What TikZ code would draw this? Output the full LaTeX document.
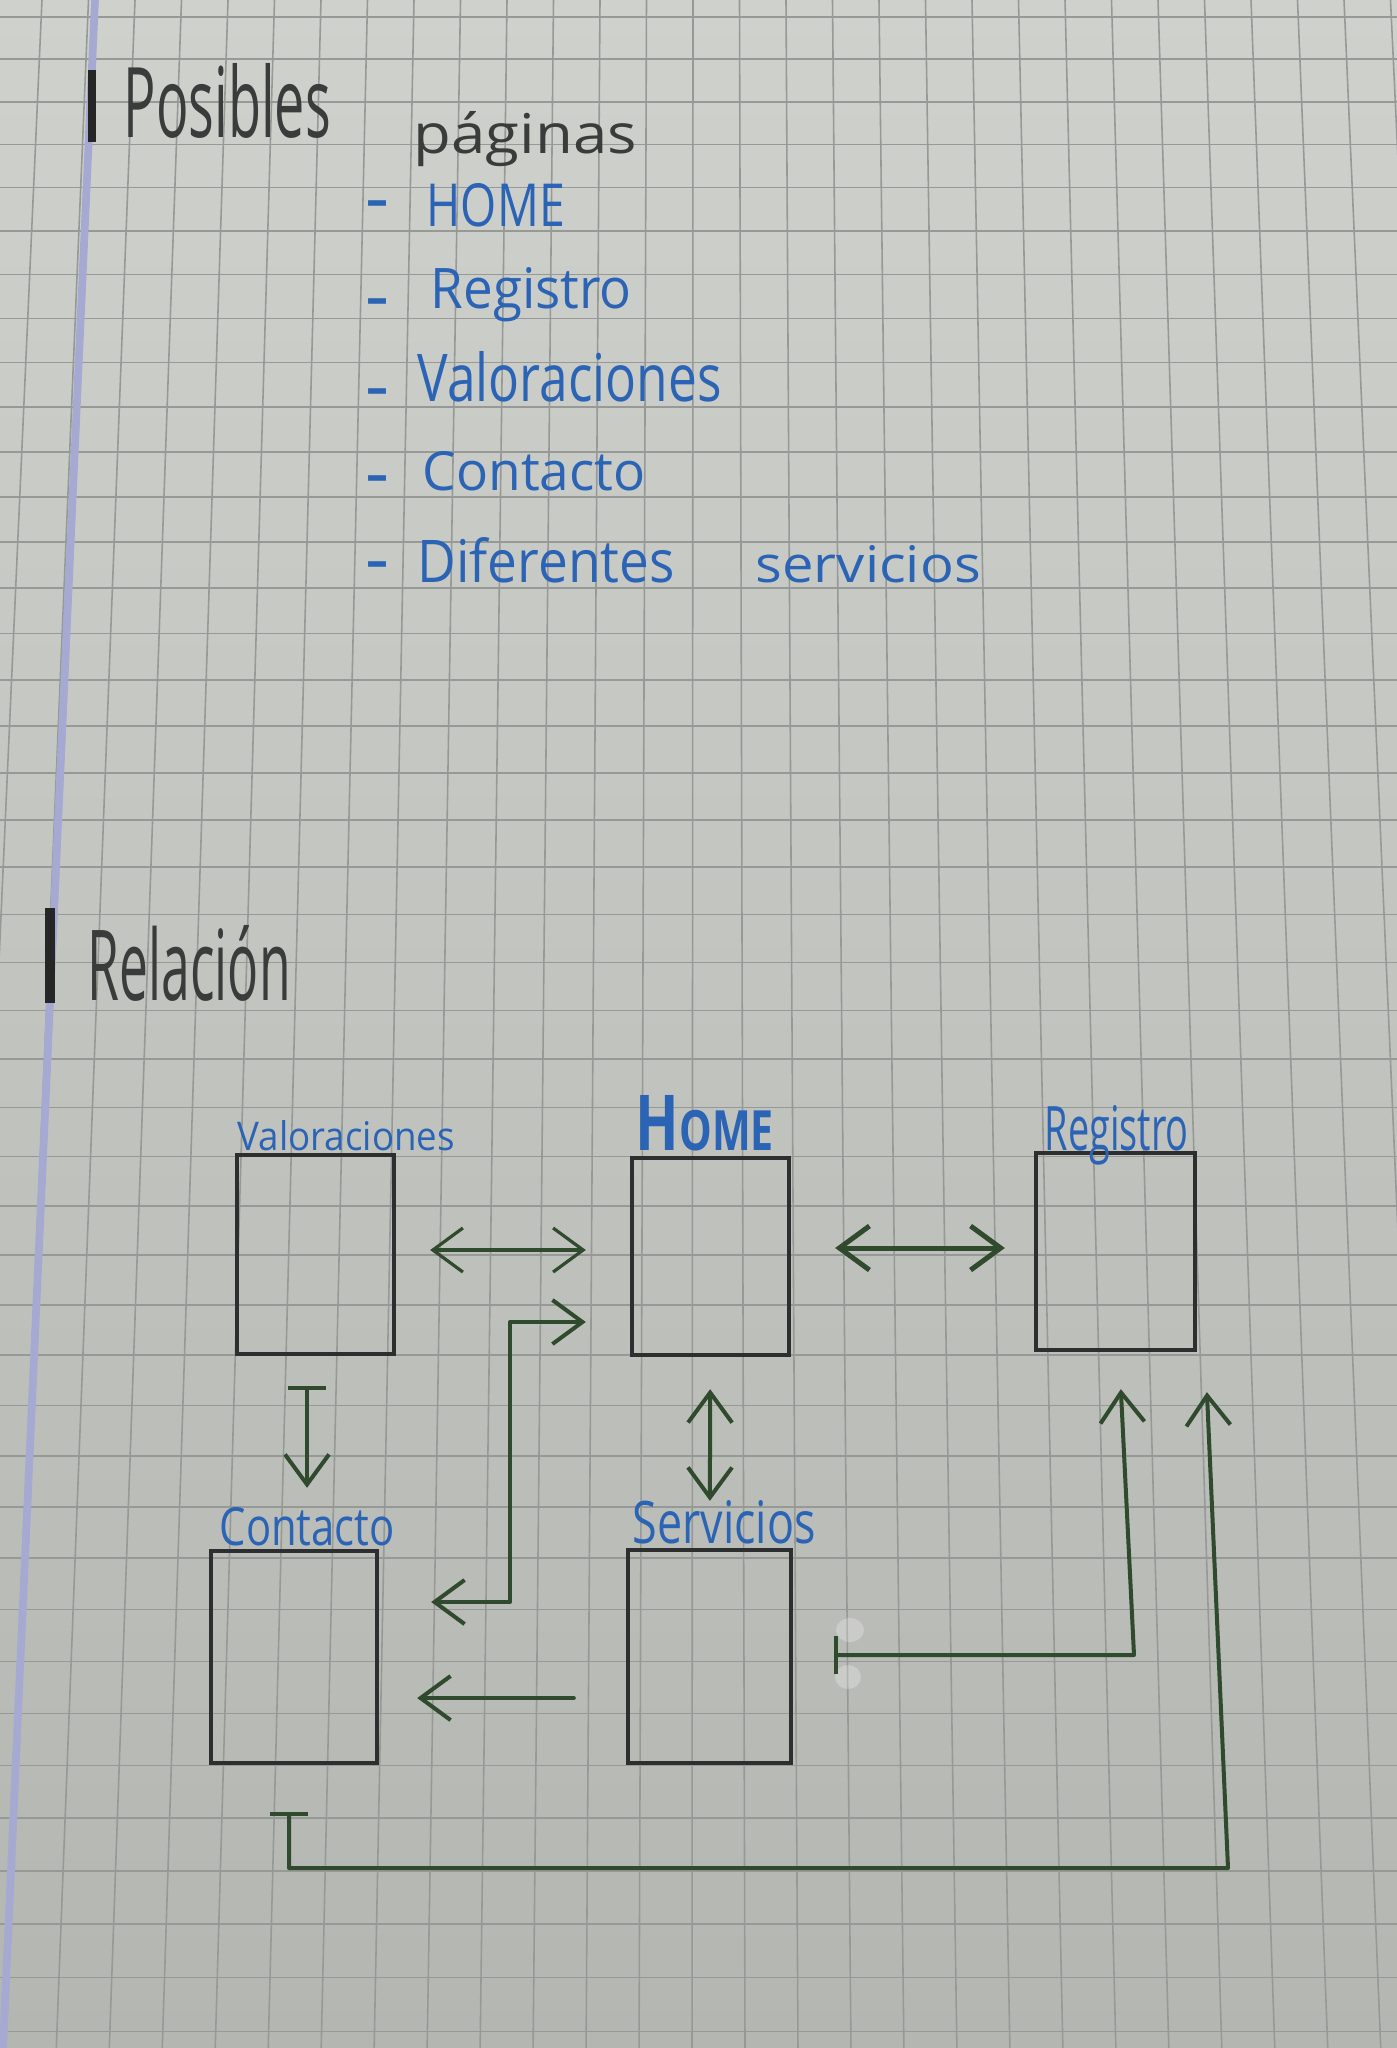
\documentclass[tikz,border=0pt]{standalone}
\usepackage{graphicx}
\usepackage{fontspec}
\setmainfont{Open Sans}
\usetikzlibrary{arrows.meta}
\definecolor{paperTop}{HTML}{CFD1CD}
\definecolor{paperBot}{HTML}{B4B6B2}
\definecolor{gridGrey}{HTML}{979996}
\definecolor{marginBlue}{HTML}{A6A9D2}
\definecolor{pencil}{HTML}{3A3B3B}
\definecolor{inkBlue}{HTML}{2B63B5}
\definecolor{boxInk}{HTML}{2C2E2F}
\definecolor{arrowGreen}{HTML}{2F4A2C}
\newcommand{\scrib}[3]{\resizebox{#1}{#2}{#3}}
\begin{document}
\begin{tikzpicture}[x=0.01cm, y=-0.01cm,
    gridline/.style={gridGrey, line width=0.45pt},
    pagebox/.style={draw=boxInk, line width=0.42mm},
    pencilText/.style={text=pencil, anchor=base west},
    inkText/.style={text=inkBlue, anchor=base west},
    flow/.style={arrowGreen, line width=0.4mm, line cap=round, line join=round},
    twoway/.style={flow, arrows={Straight Barb[length=3mm,width=4.4mm]-Straight Barb[length=3mm,width=4.4mm]}},
    oneway/.style={flow, arrows={-Straight Barb[length=3mm,width=4.4mm]}},
    barway/.style={flow, arrows={Bar[width=3.8mm]-Straight Barb[length=3mm,width=4.4mm]}}]
    \tikzstyle{every node}+=[inner sep=0pt]
    \useasboundingbox (0,0) rectangle (1397,2048);
    \begin{scope}
    \clip (0,0) rectangle (1397,2048);
    \shade[top color=paperTop, bottom color=paperBot] (0,0) rectangle (1397,2048);
    \foreach \n in {0,...,42}
        \draw[gridline] (0,{17+42.08*\n+0.14*\n*\n}) -- (1397,{17+42.08*\n+0.14*\n*\n});
    \foreach \m in {-3,...,27}
        \draw[gridline] ({135+46.5*\m}, 0) -- ({700+(135+46.5*\m-700)*1.1393}, 2048);
    \draw[marginBlue, line width=2.2pt] (95,0) -- (3,2048);
    \end{scope}
    \draw[black!85, line width=2.3pt] (92,70) -- (92,142);
    \node[pencilText] (posibles) at (123,137) {\scrib{2.07cm}{0.74cm}{Posibles}};
    \node[pencilText] (paginas) at (413,153) {\scrib{2.23cm}{0.42cm}{páginas}};
    \foreach \dy [count=\i] in {204,302,392,479,565}
        \node[text=inkBlue, anchor=base] (dash\i) at (378,\dy+19) {\scrib{0.24cm}{!}{-}};
    \node[inkText] (listhome) at (426,226) {\scrib{1.38cm}{0.43cm}{HOME}};
    \node[inkText] (listreg) at (430,308) {\scrib{2.01cm}{0.41cm}{Registro}};
    \node[inkText] (listval) at (417,401) {\scrib{3.04cm}{0.50cm}{Valoraciones}};
    \node[inkText] (listcon) at (422,490) {\scrib{2.23cm}{0.39cm}{Contacto}};
    \node[inkText] (listdif) at (417,582) {\scrib{2.57cm}{0.45cm}{Diferentes}};
    \node[inkText] (listserv) at (755,582) {\scrib{2.25cm}{0.37cm}{servicios}};
    \draw[black!85, line width=2.8pt] (50,908) -- (50,1003);
    \node[pencilText] (relacion) at (87,1000) {\scrib{2.03cm}{0.75cm}{Relación}};
    \node[pagebox, minimum width=1.57cm, minimum height=1.99cm] (val) at (315.5,1254.5) {};
    \node[pagebox, minimum width=1.57cm, minimum height=1.97cm] (home) at (710.5,1256.5) {};
    \node[pagebox, minimum width=1.59cm, minimum height=1.97cm] (reg) at (1115.5,1251.5) {};
    \node[pagebox, minimum width=1.66cm, minimum height=2.12cm] (con) at (294,1657) {};
    \node[pagebox, minimum width=1.63cm, minimum height=2.13cm] (serv) at (709.5,1656.5) {};
    \node[inkText] (valname) at (237,1150) {\scrib{2.17cm}{0.30cm}{Valoraciones}};
    \node[inkText] (homename) at (635,1150) {\scrib{1.38cm}{0.55cm}{\bfseries H\scalebox{0.72}{OME}}};
    \node[inkText] (regname) at (1044,1150) {\scrib{1.44cm}{0.45cm}{Registro}};
    \node[inkText] (conname) at (219,1545) {\scrib{1.75cm}{0.38cm}{Contacto}};
    \node[inkText] (servname) at (632,1543) {\scrib{1.83cm}{0.43cm}{Servicios}};
    \fill[white, opacity=0.25] (850,1630) ellipse (14 and 12);
    \fill[white, opacity=0.25] (848,1677) ellipse (13 and 12);
    \coordinate (bendlow) at (510,1602);
    \coordinate (bendhigh) at (510,1322);
    \coordinate (servturn) at (1134,1655);
    \coordinate (conturn) at (289,1868);
    \coordinate (regturn) at (1228,1868);
    \draw[twoway, line width=0.32mm, shorten <=0.34cm, shorten >=0.44cm] ([yshift=0.045cm]val.east) -- ([yshift=0.045cm]val.east -| home.west);
    \draw[twoway, line width=0.5mm, shorten <=0.44cm, shorten >=0.29cm] ([yshift=0.085cm]home.east) -- ([yshift=0.085cm]home.east -| reg.west);
    \draw[twoway, shorten <=0.52cm, shorten >=0.44cm] (bendlow -| con.east) -- (bendlow) -- (bendhigh) -- (bendhigh -| home.west);
    \draw[barway, shorten <=0.30cm, shorten >=0.61cm] ([xshift=-0.085cm]val.south) -- ([xshift=-0.085cm]val.south |- con.north);
    \draw[twoway, shorten <=0.32cm, shorten >=0.47cm] (home) -- (serv);
    \draw[oneway, shorten <=0.52cm, shorten >=0.38cm] ([yshift=-0.415cm]serv.west) -- ([yshift=-0.415cm]serv.west -| con.east);
    \draw[barway, shorten <=0.41cm, shorten >=0.37cm] (serv.east |- servturn) -- (servturn) -- ([xshift=0.035cm]reg.south);
    \draw[barway, shorten <=0.47cm, shorten >=0.40cm] (con.south -| conturn) -- (conturn) -- (regturn) -- ([xshift=0.08cm]reg.south east);
\end{tikzpicture}
\end{document}
